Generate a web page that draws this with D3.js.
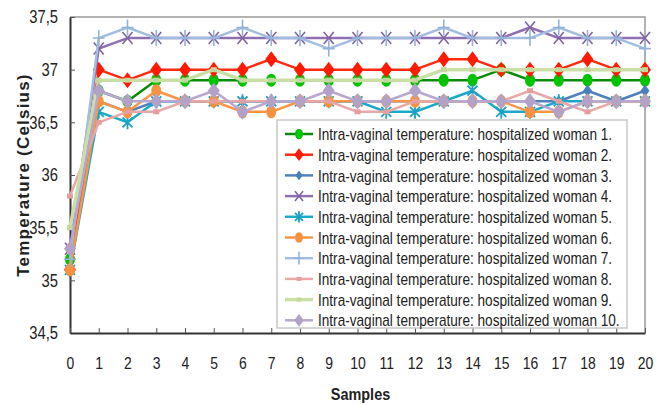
<!DOCTYPE html>
<html>
<head>
<meta charset="utf-8">
<script src="https://cdn.jsdelivr.net/npm/d3@7"></script>
<style>
  body { margin: 0; background: #fff; }
  svg { display: block; }
  text { font-family: "Liberation Sans", Arial, sans-serif; fill: #222; }
</style>
</head>
<body>
<svg id="chart" width="665" height="405"></svg>
<script>
// samples 0..20
const samples = d3.range(0, 21);
const yTicks = [34.5, 35, 35.5, 36, 36.5, 37, 37.5];

const woman1 = [35.2, 36.8, 36.7, 36.9, 36.9, 36.9, 36.9, 36.9, 36.9, 36.9, 36.9, 36.9, 36.9, 36.9, 36.9, 37.0, 36.9, 36.9, 36.9, 36.9, 36.9];
const woman2 = [35.1, 37.0, 36.9, 37.0, 37.0, 37.0, 37.0, 37.1, 37.0, 37.0, 37.0, 37.0, 37.0, 37.1, 37.1, 37.0, 37.0, 37.0, 37.1, 37.0, 37.0];
const woman3 = [35.1, 36.7, 36.6, 36.7, 36.7, 36.7, 36.7, 36.7, 36.7, 36.7, 36.7, 36.7, 36.7, 36.7, 36.7, 36.7, 36.7, 36.7, 36.8, 36.7, 36.8];
const woman4 = [35.3, 37.2, 37.3, 37.3, 37.3, 37.3, 37.3, 37.3, 37.3, 37.3, 37.3, 37.3, 37.3, 37.3, 37.3, 37.3, 37.4, 37.3, 37.3, 37.3, 37.3];
const woman5 = [35.1, 36.6, 36.5, 36.7, 36.7, 36.7, 36.7, 36.7, 36.7, 36.7, 36.7, 36.6, 36.6, 36.7, 36.8, 36.6, 36.6, 36.7, 36.7, 36.7, 36.7];
const woman6 = [35.1, 36.7, 36.6, 36.8, 36.7, 36.7, 36.6, 36.6, 36.7, 36.7, 36.7, 36.7, 36.7, 36.7, 36.7, 36.7, 36.6, 36.6, 36.7, 36.7, 36.7];
const woman7 = [35.2, 37.3, 37.4, 37.3, 37.3, 37.3, 37.4, 37.3, 37.3, 37.2, 37.3, 37.3, 37.3, 37.4, 37.3, 37.3, 37.3, 37.4, 37.3, 37.3, 37.2];
const woman8 = [35.8, 36.5, 36.6, 36.6, 36.7, 36.7, 36.7, 36.7, 36.7, 36.7, 36.6, 36.6, 36.7, 36.7, 36.7, 36.7, 36.8, 36.7, 36.6, 36.7, 36.7];
const woman9 = [35.5, 36.9, 36.9, 36.9, 36.9, 37.0, 36.9, 36.9, 36.9, 36.9, 36.9, 36.9, 36.9, 37.0, 37.0, 37.0, 37.0, 37.0, 37.0, 37.0, 37.0];
const woman10 = [35.3, 36.8, 36.7, 36.7, 36.7, 36.8, 36.6, 36.7, 36.7, 36.8, 36.7, 36.7, 36.8, 36.7, 36.7, 36.7, 36.7, 36.6, 36.7, 36.7, 36.7];

const seriesNames = d3.range(1, 11).map(i => `Intra-vaginal temperature: hospitalized woman ${i}.`);
const seriesValues = [woman1, woman2, woman3, woman4, woman5, woman6, woman7, woman8, woman9, woman10];

// look of each series: line colour, marker colour, marker shape
const styles = [
  { line: "#0a8a0a", fill: "#00c400", shape: "circle", w: 2.5 },
  { line: "#ff2a10", fill: "#ff1a00", shape: "diamond", w: 2.5 },
  { line: "#4f81bd", fill: "#4a7ebb", shape: "smalldiamond", w: 2.5 },
  { line: "#8e6fb0", fill: "#8064a2", shape: "x", w: 2.5 },
  { line: "#1ea8c8", fill: "#1aa2c4", shape: "asterisk", w: 2.5 },
  { line: "#f79646", fill: "#f7923e", shape: "circle", w: 2.5 },
  { line: "#a3bde0", fill: "#95b3d7", shape: "plus", w: 2.5 },
  { line: "#e8a8a8", fill: "#e49e9e", shape: "dash", w: 2.5 },
  { line: "#c9dfa6", fill: "#c3d69b", shape: "dash", w: 3.5 },
  { line: "#b8a8d0", fill: "#b3a2c7", shape: "diamond", w: 2.5 },
];

const svg = d3.select("#chart");
const margin = { top: 17, right: 20, bottom: 72, left: 70 };
const width = 665 - margin.left - margin.right;
const height = 405 - margin.top - margin.bottom;

const x = d3.scaleLinear().domain([0, 20]).range([0, width]);
const y = d3.scaleLinear().domain([34.5, 37.5]).range([height, 0]);

const g = svg.append("g").attr("transform", `translate(${margin.left},${margin.top})`);

// squeeze text horizontally (no narrow font installed)
function narrow(sel, k) {
  sel.each(function () {
    const len = this.getComputedTextLength();
    d3.select(this).attr("textLength", len * k).attr("lengthAdjust", "spacingAndGlyphs");
  });
}

// frame: light top/right edges
g.append("path")
  .attr("d", `M0,0H${width}V${height}`)
  .attr("fill", "none")
  .attr("stroke", "#9a9a9a")
  .attr("stroke-width", 1.5);

const fmt = d => String(d).replace(".", ",");

// y axis, ticks inside
const yAxis = g.append("g")
  .call(d3.axisLeft(y).tickValues(yTicks).tickFormat(fmt).tickSizeInner(-5).tickSizeOuter(0).tickPadding(12));
yAxis.select(".domain").attr("stroke", "#333").attr("stroke-width", 2);
yAxis.selectAll(".tick line").attr("stroke", "#555");
yAxis.selectAll("text").style("font-size", "18px").attr("fill", "#222").call(narrow, 0.82);

// x axis, ticks inside
const xAxis = g.append("g")
  .attr("transform", `translate(0,${height})`)
  .call(d3.axisBottom(x).tickValues(samples).tickFormat(d3.format("d")).tickSizeInner(-5).tickSizeOuter(0).tickPadding(24));
xAxis.select(".domain").attr("stroke", "#333").attr("stroke-width", 2);
xAxis.selectAll(".tick line").attr("stroke", "#555");
xAxis.selectAll("text").style("font-size", "17px").attr("fill", "#222").call(narrow, 0.82);

// axis titles
svg.append("text")
  .attr("x", margin.left + width / 2 + 3)
  .attr("y", 400)
  .attr("text-anchor", "middle")
  .style("font-size", "17px")
  .style("font-weight", "bold")
  .text("Samples")
  .call(narrow, 0.85);

svg.append("text")
  .attr("transform", `translate(29,${margin.top + 158}) rotate(-90)`)
  .attr("text-anchor", "middle")
  .style("font-size", "17px")
  .style("font-weight", "bold")
  .style("letter-spacing", "1.2px")
  .text("Temperature (Celsius)");

function drawMarker(sel, shape, color, s) {
  switch (shape) {
    case "circle":
      sel.append("ellipse").attr("rx", 5 * s).attr("ry", 6.5 * s).attr("fill", color);
      break;
    case "diamond":
      sel.append("path").attr("d", `M0,${-8 * s}L${6 * s},0L0,${8 * s}L${-6 * s},0Z`).attr("fill", color);
      break;
    case "smalldiamond":
      sel.append("path").attr("d", `M0,${-6 * s}L${4.5 * s},0L0,${6 * s}L${-4.5 * s},0Z`).attr("fill", color);
      break;
    case "x":
      sel.append("path").attr("d", `M${-5 * s},${-6 * s}L${5 * s},${6 * s}M${5 * s},${-6 * s}L${-5 * s},${6 * s}`)
        .attr("stroke", color).attr("stroke-width", 1.6);
      break;
    case "asterisk":
      sel.append("path").attr("d", `M${-5 * s},${-5 * s}L${5 * s},${5 * s}M${5 * s},${-5 * s}L${-5 * s},${5 * s}M0,${-7 * s}V${7 * s}`)
        .attr("stroke", color).attr("stroke-width", 1.8);
      break;
    case "plus":
      sel.append("path").attr("d", `M${-6 * s},0H${6 * s}M0,${-8 * s}V${8 * s}`)
        .attr("stroke", color).attr("stroke-width", 1.6);
      break;
    case "dash":
      sel.append("rect").attr("x", -3 * s).attr("y", -2.5 * s).attr("width", 6 * s).attr("height", 5 * s).attr("fill", color);
      break;
  }
}

const line = d3.line().x((d, i) => x(samples[i])).y(d => y(d));

seriesValues.forEach((vals, k) => {
  const st = styles[k];
  const sg = g.append("g").attr("class", "series");
  sg.append("path")
    .datum(vals)
    .attr("d", line)
    .attr("fill", "none")
    .attr("stroke", st.line)
    .attr("stroke-width", st.w)
    .attr("stroke-linejoin", "round");
  sg.selectAll("g.pt")
    .data(vals)
    .join("g")
    .attr("class", "pt")
    .attr("transform", (d, i) => `translate(${x(samples[i])},${y(d)})`)
    .each(function () { drawMarker(d3.select(this), st.shape, st.fill, 1); });
});

// legend
const legend = svg.append("g").attr("transform", "translate(277,120)");
legend.append("rect")
  .attr("width", 350).attr("height", 208)
  .attr("fill", "#fff")
  .attr("stroke", "#c8c8c8")
  .attr("stroke-width", 1.5);

const rows = legend.selectAll("g.row")
  .data(seriesNames)
  .join("g")
  .attr("class", "row")
  .attr("transform", (d, i) => `translate(8,${14 + i * 20.7})`);

rows.append("line")
  .attr("x1", 0).attr("x2", 28)
  .attr("stroke", (d, i) => styles[i].line)
  .attr("stroke-width", (d, i) => styles[i].w);
rows.each(function (d, i) {
  const m = d3.select(this).append("g").attr("transform", "translate(14,0)");
  drawMarker(m, styles[i].shape, styles[i].fill, 0.8);
});
rows.append("text")
  .attr("x", 33)
  .attr("dy", "0.36em")
  .style("font-size", "17px")
  .text(d => d)
  .call(narrow, 0.8);
</script>
</body>
</html>
